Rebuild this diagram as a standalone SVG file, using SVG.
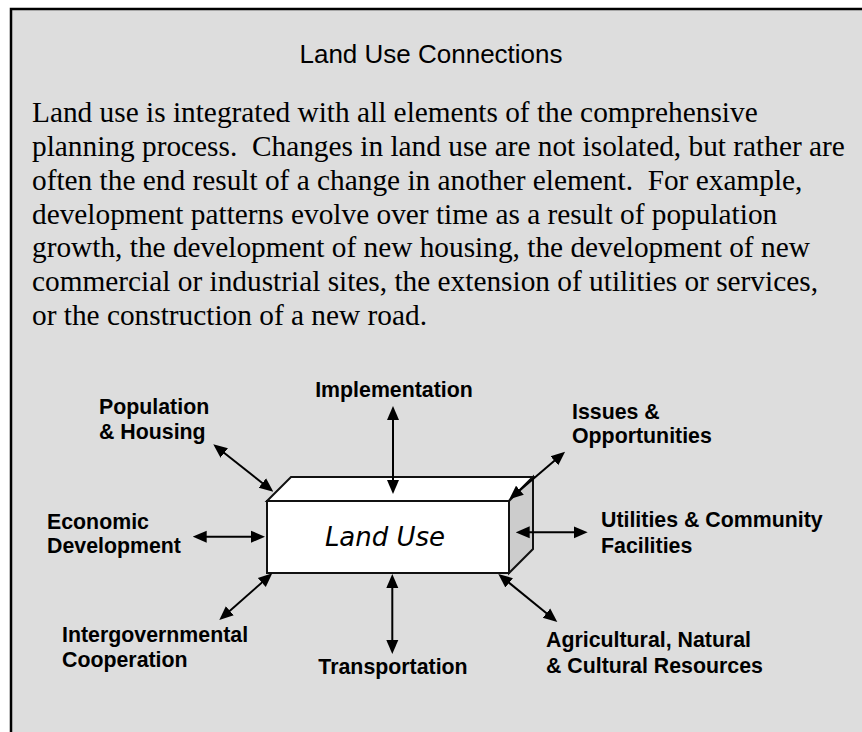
<svg xmlns="http://www.w3.org/2000/svg" width="862" height="732" viewBox="0 0 862 732">
<defs>
<style>
.para{font-family:"Liberation Serif","Times New Roman",serif;font-size:29.33px;fill:#000;white-space:pre}
.lbl{font-family:"Liberation Sans",Arial,sans-serif;font-size:21.33px;font-weight:bold;fill:#000}
.title{font-family:"Liberation Sans",Arial,sans-serif;font-size:26px;fill:#000}
.conn line{stroke:#000;stroke-width:2;marker-start:url(#ah);marker-end:url(#ah)}
.face{stroke:#111;stroke-width:2;stroke-linejoin:miter}
</style>
<marker id="ah" markerUnits="userSpaceOnUse" markerWidth="14" markerHeight="14" viewBox="0 0 14 12" refX="10" refY="6" orient="auto-start-reverse">
<path d="M0,0 L14,6 L0,12 z" fill="#000"/>
</marker>
</defs>
<rect x="0" y="0" width="862" height="732" fill="#fff"/>
<rect x="11" y="9" width="900" height="800" fill="#dddddd" stroke="#000" stroke-width="2.5"/>
<text class="title" x="431" y="63" text-anchor="middle">Land Use Connections</text>
<g id="paragraph">
<text class="para" x="32" y="122">Land use is integrated with all elements of the comprehensive</text>
<text class="para" x="32" y="156">planning process.  Changes in land use are not isolated, but rather are</text>
<text class="para" x="32" y="190">often the end result of a change in another element.  For example,</text>
<text class="para" x="32" y="224">development patterns evolve over time as a result of population</text>
<text class="para" x="32" y="257">growth, the development of new housing, the development of new</text>
<text class="para" x="32" y="291">commercial or industrial sites, the extension of utilities or services,</text>
<text class="para" x="32" y="325">or the construction of a new road.</text>
</g>
<g id="land-use">
<polygon class="face" points="267,501 291,477 533,477 509,501" fill="#fff"/>
<polygon class="face" points="509,501 533,477 533,549 509,573" fill="#cccccc"/>
<rect class="face" x="267" y="501" width="242" height="72" fill="#fff"/>
<text x="385" y="546" text-anchor="middle" font-family="DejaVu Sans,Verdana,sans-serif" font-style="italic" font-size="26">Land Use</text>
</g>
<g id="connectors" class="conn">
<line x1="393" y1="410" x2="393" y2="490"/>
<line x1="216.4" y1="446.8" x2="270.2" y2="489.2"/>
<line x1="196.7" y1="536.7" x2="261" y2="536.7"/>
<line x1="269.3" y1="576" x2="222.3" y2="617.4"/>
<line x1="392.3" y1="578" x2="392.3" y2="650"/>
<line x1="501.4" y1="576.5" x2="554.2" y2="619.5"/>
<line x1="512.3" y1="496.7" x2="562" y2="454.3"/>
<line x1="519.7" y1="532.3" x2="583.7" y2="532.3"/>
</g>
<g id="implementation"><text class="lbl" x="394" y="397" text-anchor="middle">Implementation</text></g>
<g id="population-housing"><text class="lbl" x="99" y="414">Population</text><text class="lbl" x="99" y="439">&amp; Housing</text></g>
<g id="issues-opportunities"><text class="lbl" x="572" y="419">Issues &amp;</text><text class="lbl" x="572" y="443">Opportunities</text></g>
<g id="economic-development"><text class="lbl" x="47" y="529">Economic</text><text class="lbl" x="47" y="553">Development</text></g>
<g id="utilities-facilities"><text class="lbl" x="601" y="527">Utilities &amp; Community</text><text class="lbl" x="601" y="553">Facilities</text></g>
<g id="intergovernmental"><text class="lbl" x="62" y="642">Intergovernmental</text><text class="lbl" x="62" y="667">Cooperation</text></g>
<g id="transportation"><text class="lbl" x="393" y="674" text-anchor="middle">Transportation</text></g>
<g id="agricultural"><text class="lbl" x="546" y="647">Agricultural, Natural</text><text class="lbl" x="546" y="673">&amp; Cultural Resources</text></g>
</svg>
